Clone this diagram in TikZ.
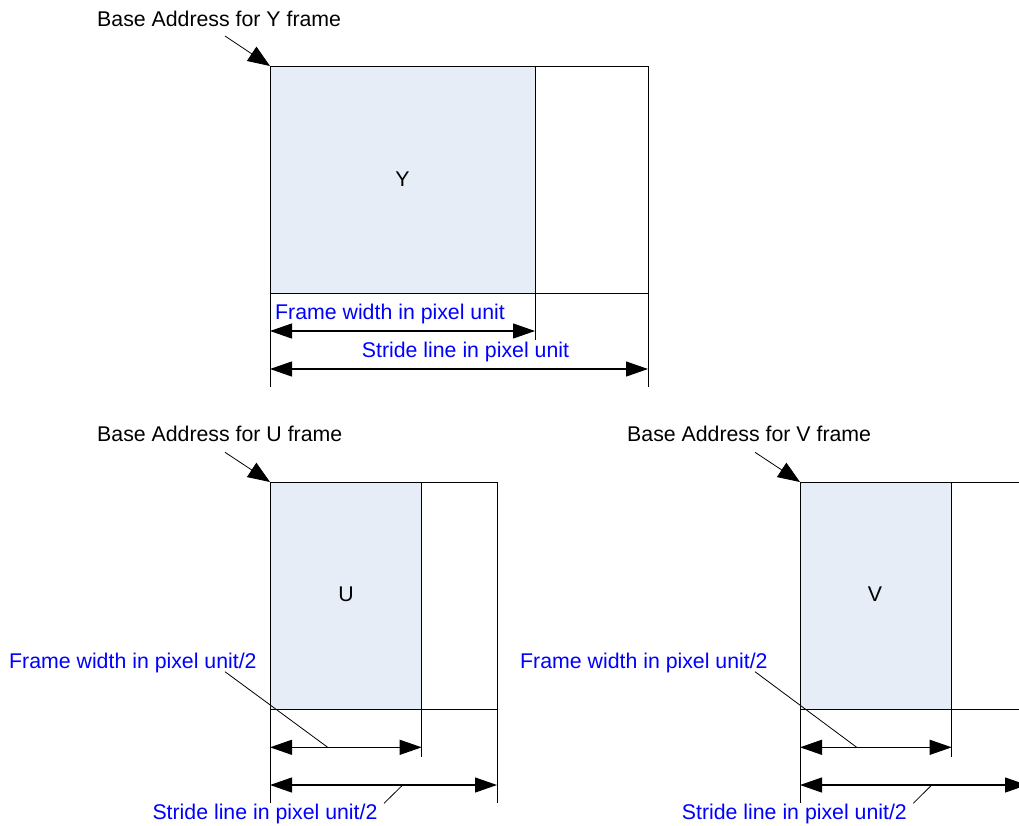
\documentclass[tikz,border=0pt]{standalone}
\usepackage{fontspec}
\setmainfont{Liberation Sans}
\usetikzlibrary{arrows.meta}
\definecolor{planefill}{RGB}{230,237,247}
\definecolor{labelblue}{RGB}{0,0,255}
\begin{document}
\begin{tikzpicture}[x=1pt,y=-1pt,
  frameline/.style={draw=black,line width=1pt},
  dimline/.style={draw=black,line width=1.1pt,{Triangle[length=22pt,width=15pt]}-{Triangle[length=22pt,width=15pt]}},
  ptr/.style={draw=black,line width=0.8pt,-{Triangle[length=22pt,width=17pt]}},
  leader/.style={draw=black,line width=0.8pt},
  blk/.style={font=\fontsize{21.3}{25}\selectfont,inner sep=0pt,text=black},
  blu/.style={blk,text=labelblue}]
\useasboundingbox (0,0) rectangle (1019,825);
\clip (0,0) rectangle (1019,825);

% ---------------- Y frame ----------------
\fill[planefill] (270,66) rectangle (535,293);
\coordinate (ytl) at (270,66);
\coordinate (ytr) at (648,66);
\coordinate (ybl) at (270,387);
\coordinate (ybr) at (648,387);
\coordinate (yit) at (535,66);
\coordinate (yib) at (535,340);
\coordinate (yhl) at (270,293);
\coordinate (yhr) at (648,293);
\draw[frameline] (ytl) -- (ytr);
\draw[frameline] (ytl) -- (ybl);
\draw[frameline] (ytr) -- (ybr);
\draw[frameline] (yit) -- (yib);
\draw[frameline] (yhl) -- (yhr);
\node[blk,anchor=base] (ylab) at (402.5,186) {Y};
\node[blk,anchor=base west] (ybase) at (97,26) {Base Address for Y frame};
\coordinate (yptr) at (225,36);
\draw[ptr] (yptr) -- (ytl);
\node[blu,anchor=base west] (yfw) at (275,319) {Frame width in pixel unit};
\coordinate (yfwa) at (270,331);
\coordinate (yfwb) at (535,331);
\draw[dimline] (yfwa) -- (yfwb);
\node[blu,anchor=base west] (ysl) at (361.7,357.3) {Stride line in pixel unit};
\coordinate (ysla) at (270,369);
\coordinate (yslb) at (648,369);
\draw[dimline] (ysla) -- (yslb);

% ---------------- U frame ----------------
\fill[planefill] (270,482) rectangle (421.7,709);
\coordinate (utl) at (270,482);
\coordinate (utr) at (497,482);
\coordinate (ubl) at (270,803);
\coordinate (ubr) at (497,803);
\coordinate (uit) at (421.7,482);
\coordinate (uib) at (421.7,757);
\coordinate (uhl) at (270,709);
\coordinate (uhr) at (497,709);
\draw[frameline] (utl) -- (utr);
\draw[frameline] (utl) -- (ubl);
\draw[frameline] (utr) -- (ubr);
\draw[frameline] (uit) -- (uib);
\draw[frameline] (uhl) -- (uhr);
\node[blk,anchor=base] (ulab) at (346,601.7) {U};
\node[blk,anchor=base west] (ubase) at (97,441.7) {Base Address for U frame};
\coordinate (uptr) at (225,452.3);
\draw[ptr] (uptr) -- (utl);
\coordinate (ufwa) at (270,747.3);
\coordinate (ufwb) at (421.7,747.3);
\draw[dimline] (ufwa) -- (ufwb);
\coordinate (usla) at (270,785);
\coordinate (uslb) at (497,785);
\draw[dimline] (usla) -- (uslb);
\node[blu,anchor=base west] (ufw) at (9,668.3) {Frame width in pixel unit/2};
\coordinate (ufwl0) at (225,671.7);
\coordinate (ufwl1) at (327.7,747.3);
\draw[leader] (ufwl0) -- (ufwl1);
\node[blu,anchor=base west] (usl) at (152.3,819.3) {Stride line in pixel unit/2};
\coordinate (usll0) at (384,803.3);
\coordinate (usll1) at (402.7,785);
\draw[leader] (usll0) -- (usll1);

% ---------------- V frame ----------------
\fill[planefill] (800,482) rectangle (951.7,709);
\coordinate (vtl) at (800,482);
\coordinate (vtr) at (1027,482);
\coordinate (vbl) at (800,803);
\coordinate (vbr) at (1027,803);
\coordinate (vit) at (951.7,482);
\coordinate (vib) at (951.7,757);
\coordinate (vhl) at (800,709);
\coordinate (vhr) at (1027,709);
\draw[frameline] (vtl) -- (vtr);
\draw[frameline] (vtl) -- (vbl);
\draw[frameline] (vtr) -- (vbr);
\draw[frameline] (vit) -- (vib);
\draw[frameline] (vhl) -- (vhr);
\node[blk,anchor=base] (vlab) at (875,601.7) {V};
\node[blk,anchor=base west] (vbase) at (627,441.7) {Base Address for V frame};
\coordinate (vptr) at (755,452.3);
\draw[ptr] (vptr) -- (vtl);
\coordinate (vfwa) at (800,747.3);
\coordinate (vfwb) at (951.7,747.3);
\draw[dimline] (vfwa) -- (vfwb);
\coordinate (vsla) at (800,785);
\coordinate (vslb) at (1027,785);
\draw[dimline] (vsla) -- (vslb);
\node[blu,anchor=base west] (vfw) at (520,668.3) {Frame width in pixel unit/2};
\coordinate (vfwl0) at (755,671.7);
\coordinate (vfwl1) at (856.7,747.3);
\draw[leader] (vfwl0) -- (vfwl1);
\node[blu,anchor=base west] (vsl) at (681.7,819.3) {Stride line in pixel unit/2};
\coordinate (vsll0) at (913.3,803.3);
\coordinate (vsll1) at (931.7,785);
\draw[leader] (vsll0) -- (vsll1);
\end{tikzpicture}
\end{document}
